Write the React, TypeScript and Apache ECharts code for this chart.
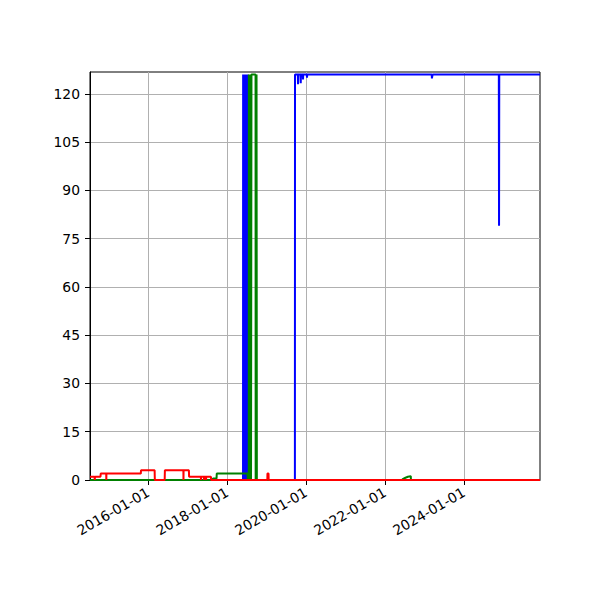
import React, { useEffect, useRef } from 'react';
import * as echarts from 'echarts';

// [date, value] points for each series
const bluePoints: [string, number][] = [
  ['2014-07-13', 0], ['2018-05-29', 0],
  ['2018-05-30', 126], ['2018-06-03', 126], ['2018-06-04', 0], ['2018-06-08', 0],
  ['2018-06-09', 126], ['2018-06-14', 126], ['2018-06-15', 0], ['2018-06-19', 0],
  ['2018-06-20', 126], ['2018-06-25', 126], ['2018-06-26', 0], ['2018-06-30', 0],
  ['2018-07-01', 126], ['2018-07-06', 126], ['2018-07-07', 0], ['2018-07-11', 0],
  ['2018-07-12', 126], ['2018-07-18', 126], ['2018-07-19', 0],
  ['2019-09-21', 0], ['2019-09-22', 126],
  ['2019-10-18', 126], ['2019-10-20', 123], ['2019-10-22', 126],
  ['2019-11-12', 126], ['2019-11-14', 123.3], ['2019-11-16', 126],
  ['2019-12-03', 126], ['2019-12-05', 124.5], ['2019-12-07', 126],
  ['2020-01-09', 126], ['2020-01-11', 125], ['2020-01-13', 126],
  ['2023-03-10', 126], ['2023-03-12', 124.8], ['2023-03-16', 124.8], ['2023-03-18', 126],
  ['2024-11-20', 126], ['2024-11-22', 79], ['2024-11-24', 126],
  ['2025-12-06', 126]
];

const greenPoints: [string, number][] = [
  ['2014-07-13', 0], ['2017-08-22', 0], ['2017-08-24', 0.5], ['2017-09-26', 0.5],
  ['2017-09-28', 2], ['2018-07-10', 2], ['2018-07-12', 0],
  ['2018-07-21', 0], ['2018-07-22', 126], ['2018-07-28', 126], ['2018-07-29', 0],
  ['2018-08-04', 0], ['2018-08-05', 126], ['2018-08-10', 126], ['2018-08-11', 0],
  ['2018-08-14', 0], ['2018-08-15', 126], ['2018-09-22', 126], ['2018-09-23', 0],
  ['2018-09-30', 0], ['2018-10-01', 126], ['2018-10-03', 126], ['2018-10-04', 0],
  ['2022-06-10', 0], ['2022-06-14', 0.3], ['2022-07-10', 0.7], ['2022-08-02', 1],
  ['2022-08-28', 1.2], ['2022-08-30', 0],
  ['2025-12-06', 0]
];

const redPoints: [string, number][] = [
  ['2014-07-13', 1], ['2014-08-24', 1], ['2014-08-26', 0], ['2014-08-28', 1],
  ['2014-10-18', 1], ['2014-10-20', 2],
  ['2014-12-10', 2], ['2014-12-11', 0], ['2014-12-12', 2],
  ['2015-10-26', 2], ['2015-10-28', 3],
  ['2016-03-02', 3], ['2016-03-04', 0],
  ['2016-06-03', 0], ['2016-06-05', 3],
  ['2016-11-23', 3], ['2016-11-24', 0], ['2016-11-25', 3],
  ['2017-01-13', 3], ['2017-01-15', 1],
  ['2017-05-04', 1], ['2017-05-05', 0], ['2017-05-06', 1],
  ['2017-06-01', 1], ['2017-06-02', 0], ['2017-06-03', 1],
  ['2017-06-20', 1], ['2017-06-21', 0], ['2017-06-22', 1],
  ['2017-08-05', 1], ['2017-08-07', 0],
  ['2019-01-09', 0], ['2019-01-10', 2], ['2019-01-20', 2], ['2019-01-21', 0],
  ['2025-12-06', 0]
];

const xTickDates = ['2016-01-01', '2018-01-01', '2020-01-01', '2022-01-01', '2024-01-01'];
const yTicks = [0, 15, 30, 45, 60, 75, 90, 105, 120];

const X_MIN = '2014-07-13';
const X_MAX = '2025-12-06';
const Y_MAX = 126.8;

const FONT = 'DejaVu Sans';

const ts = (d: string) => +echarts.time.parse(d);

const App: React.FC = () => {
  const chartRef = useRef<HTMLDivElement>(null);

  useEffect(() => {
    if (!chartRef.current) return;
    const chart = echarts.init(chartRef.current, undefined, { renderer: 'svg' });

    const xTicks = xTickDates.map(ts);

    const line = (points: [string, number][], color: string) => ({
      type: 'line',
      data: points.map(([d, v]) => [ts(d), v]),
      showSymbol: false,
      symbol: 'none',
      lineStyle: { color, width: 2 },
      itemStyle: { color }
    });

    const option: any = {
      animation: false,
      textStyle: { fontFamily: FONT },
      grid: {
        left: 90, right: 60, top: 72, bottom: 120,
        show: true, borderColor: '#000', borderWidth: 1, backgroundColor: 'transparent'
      },
      xAxis: {
        type: 'value',
        min: ts(X_MIN),
        max: ts(X_MAX),
        axisLine: { show: true, onZero: false, lineStyle: { color: '#000', width: 1 } },
        axisTick: { show: true, length: 5, customValues: xTicks, lineStyle: { color: '#000' } },
        axisLabel: {
          customValues: xTicks,
          rotate: 30,
          margin: 11,
          color: '#000',
          fontSize: 13.9,
          fontFamily: FONT,
          formatter: (v: number) => echarts.time.format(v, '{yyyy}-{MM}-{dd}', false)
        },
        splitLine: { show: true, lineStyle: { color: '#b0b0b0', width: 1 } }
      },
      yAxis: {
        type: 'value',
        min: 0,
        max: Y_MAX,
        interval: 15,
        axisLine: { show: true, lineStyle: { color: '#000', width: 1 } },
        axisTick: { show: true, length: 5, customValues: yTicks, lineStyle: { color: '#000' } },
        axisLabel: {
          customValues: yTicks,
          margin: 10,
          color: '#000',
          fontSize: 13.9,
          fontFamily: FONT
        },
        splitLine: { show: true, lineStyle: { color: '#b0b0b0', width: 1 } }
      },
      series: [
        line(bluePoints, '#0000ff'),
        line(greenPoints, '#008000'),
        line(redPoints, '#ff0000')
      ]
    };

    chart.setOption(option);

    return () => {
      chart.dispose();
    };
  }, []);

  return (
    <div
      ref={chartRef}
      style={{ position: 'absolute', left: 0, top: 0, width: 600, height: 600, background: '#fff' }}
    />
  );
};

export default App;
